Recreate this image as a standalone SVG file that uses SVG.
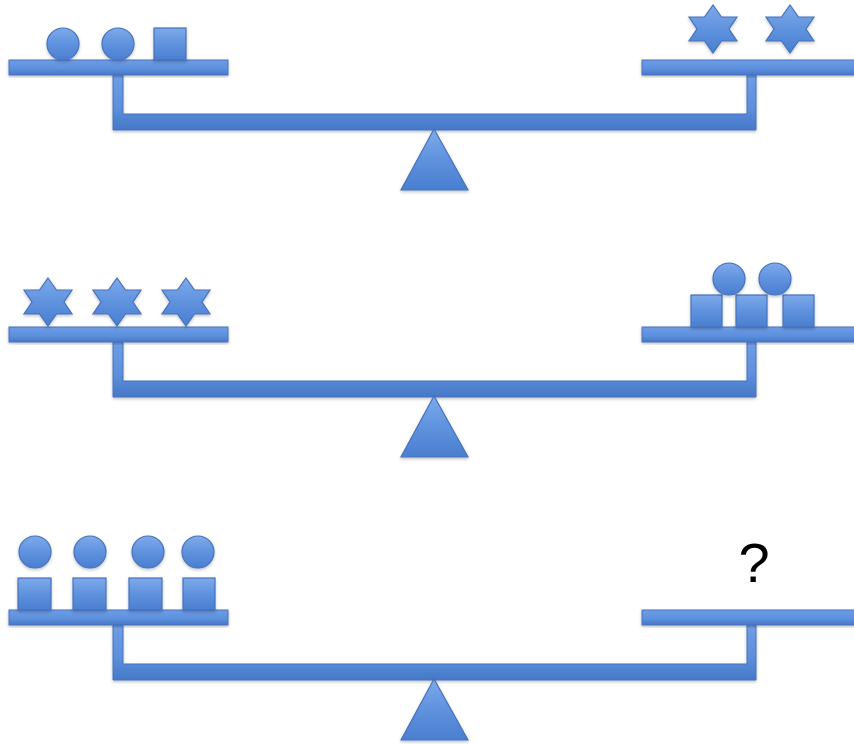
<svg xmlns="http://www.w3.org/2000/svg" width="854" height="744" viewBox="0 0 854 744">
<defs>
<linearGradient id="g" x1="0" y1="0" x2="0" y2="1">
<stop offset="0" stop-color="#7eaaea"/>
<stop offset="0.5" stop-color="#5f92de"/>
<stop offset="1" stop-color="#4a7ed0"/>
</linearGradient>
<linearGradient id="gb" x1="0" y1="0" x2="0" y2="1">
<stop offset="0" stop-color="#6f9de6"/>
<stop offset="0.6" stop-color="#5c8fdc"/>
<stop offset="1" stop-color="#4677c8"/>
</linearGradient>
<filter id="sh" x="-10%" y="-10%" width="120%" height="130%">
<feDropShadow dx="0" dy="1.5" stdDeviation="1.5" flood-color="#000" flood-opacity="0.25"/>
</filter>
<polygon id="star" points="0,-24 8.5,-12 24,-12 16,0 24,12 8.5,12 0,24 -8.5,12 -24,12 -16,0 -24,-12 -8.5,-12"/>
</defs>
<style>
.s{fill:url(#g);stroke:#4672bd;stroke-width:1.2;filter:url(#sh)}
.b{fill:url(#gb);stroke:#4672bd;stroke-width:1;filter:url(#sh)}
.q{font-family:"Liberation Sans",Arial,sans-serif;font-size:56px;fill:#000}
</style>
<rect width="854" height="744" fill="#fff"/>

<g id="connectors">
<path class="b" d="M113,75 H123 V114 H747 V75 H756 V130 H113 Z"/>
<path class="b" d="M113,342 H123 V381 H747 V342 H756 V397 H113 Z"/>
<path class="b" d="M113,625 H123 V664 H747 V625 H756 V680 H113 Z"/>
</g>

<g id="scale1">
<rect id="pan1L" class="b" x="9" y="60" width="219" height="15"/>
<rect id="pan1R" class="b" x="642" y="60" width="214" height="15"/>
<polygon id="fulcrum1" class="s" points="434,129 401,190 468,190"/>
<g id="scale1-left">
<circle class="s" cx="63" cy="44" r="16"/>
<circle class="s" cx="118" cy="44" r="16"/>
<rect class="s" x="154" y="28" width="32" height="32"/>
</g>
<g id="scale1-right">
<use href="#star" class="s" x="713" y="29"/>
<use href="#star" class="s" x="790" y="29"/>
</g>
</g>

<g id="scale2">
<rect id="pan2L" class="b" x="9" y="327" width="219" height="15"/>
<rect id="pan2R" class="b" x="642" y="327" width="214" height="15"/>
<polygon id="fulcrum2" class="s" points="434,396 401,457 468,457"/>
<g id="scale2-left">
<use href="#star" class="s" x="48" y="302"/>
<use href="#star" class="s" x="117" y="302"/>
<use href="#star" class="s" x="186" y="302"/>
</g>
<g id="scale2-right">
<rect class="s" x="691" y="295" width="31" height="32"/>
<rect class="s" x="736" y="295" width="31" height="32"/>
<rect class="s" x="783" y="295" width="31" height="32"/>
<circle class="s" cx="729" cy="279" r="16"/>
<circle class="s" cx="775" cy="279" r="16"/>
</g>
</g>

<g id="scale3">
<rect id="pan3L" class="b" x="9" y="610" width="219" height="15"/>
<rect id="pan3R" class="b" x="642" y="610" width="214" height="15"/>
<polygon id="fulcrum3" class="s" points="434,679 401,740 468,740"/>
<g id="scale3-left">
<rect class="s" x="18" y="578" width="33" height="32"/>
<rect class="s" x="73" y="578" width="33" height="32"/>
<rect class="s" x="129" y="578" width="33" height="32"/>
<rect class="s" x="183" y="578" width="32" height="32"/>
<circle class="s" cx="35" cy="552" r="16"/>
<circle class="s" cx="90" cy="552" r="16"/>
<circle class="s" cx="148" cy="552" r="16"/>
<circle class="s" cx="198" cy="552" r="16"/>
</g>
<g id="scale3-right">
<text class="q" x="754" y="582" text-anchor="middle">?</text>
</g>
</g>
</svg>
